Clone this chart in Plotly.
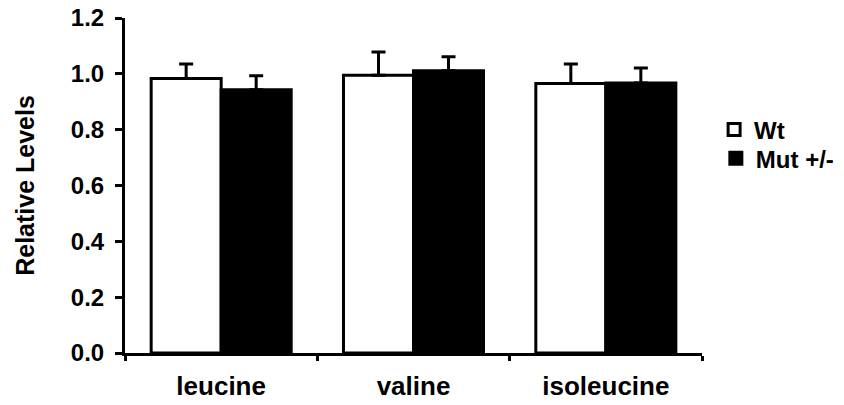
import plotly.graph_objects as go

categories = ["leucine", "valine", "isoleucine"]
wt_values = [0.983, 0.995, 0.965]
wt_errors = [0.052, 0.083, 0.070]
mut_values = [0.943, 1.011, 0.967]
mut_errors = [0.050, 0.050, 0.054]
y_ticks = [0.0, 0.2, 0.4, 0.6, 0.8, 1.0, 1.2]

FONT = "Liberation Sans, Arial, Helvetica, sans-serif"

fig = go.Figure()
fig.add_trace(go.Bar(
    name="Wt", x=categories, y=wt_values, legend="legend",
    marker=dict(color="white", line=dict(color="black", width=3)),
    error_y=dict(type="data", symmetric=False, array=wt_errors,
                 arrayminus=[0] * len(wt_errors), color="black",
                 thickness=3, width=7),
))
fig.add_trace(go.Bar(
    name="Mut +/-", x=categories, y=mut_values, legend="legend2",
    marker=dict(color="black", line=dict(color="black", width=3)),
    error_y=dict(type="data", symmetric=False, array=mut_errors,
                 arrayminus=[0] * len(mut_errors), color="black",
                 thickness=3, width=7),
))

legend_font = dict(family=FONT, size=24, color="black", weight="bold")

fig.update_layout(
    width=844, height=405,
    margin=dict(l=117, r=150, t=10, b=59.5, autoexpand=False),
    paper_bgcolor="white", plot_bgcolor="white",
    barmode="group", bargap=0.272, bargroupgap=0,
    font=dict(family=FONT, size=24, color="black", weight="bold"),
    showlegend=True,
    legend=dict(x=1.021, y=0.666, xanchor="left", yanchor="middle",
                font=legend_font, itemwidth=30, bgcolor="rgba(0,0,0,0)"),
    legend2=dict(x=1.024, y=0.58, xanchor="left", yanchor="middle",
                 font=legend_font, itemwidth=30, bgcolor="rgba(0,0,0,0)"),
    xaxis=dict(
        type="category", showline=True, linecolor="black", linewidth=3,
        ticks="outside", ticklen=5, tickwidth=3, tickcolor="black",
        tickson="boundaries", showgrid=False, zeroline=False,
        tickfont=dict(family=FONT, size=26, color="black", weight="bold"),
        ticklabelstandoff=8, ticklabeloverflow="allow",
    ),
    yaxis=dict(
        range=[0, 1.2], tickvals=y_ticks, tickformat=".1f",
        showline=True, linecolor="black", linewidth=3,
        ticks="outside", ticklen=7, tickwidth=3, tickcolor="black",
        showgrid=False, zeroline=False,
        tickfont=dict(family=FONT, size=24, color="black", weight="bold"),
        ticklabelstandoff=6, ticklabeloverflow="allow",
        title=dict(text="Relative Levels", standoff=30,
                   font=dict(family=FONT, size=25, color="black", weight="bold")),
    ),
)

fig.write_html("out.html")
